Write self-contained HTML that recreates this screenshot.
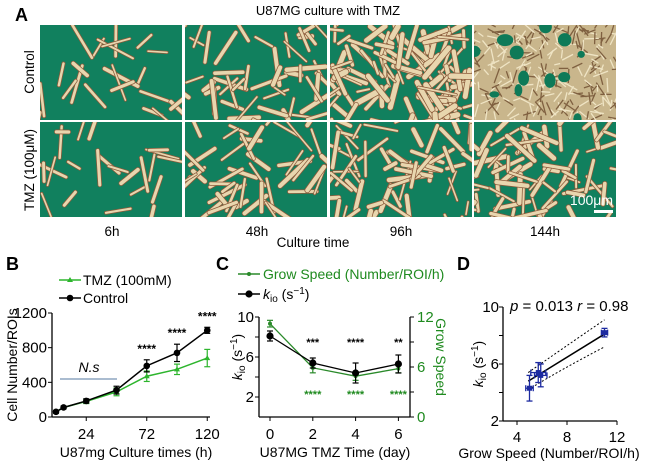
<!DOCTYPE html>
<html><head><meta charset="utf-8"><style>
body{margin:0;background:#fff;font-family:"Liberation Sans",Arial,sans-serif}
svg{display:block}
</style></head><body>
<svg id="fig" width="659" height="471" viewBox="0 0 659 471" xmlns="http://www.w3.org/2000/svg" font-family="Liberation Sans, Arial, sans-serif">
<g id="tiles"></g>
<text x="15" y="21" font-size="18" font-weight="bold">A</text>
<text x="328" y="15" font-size="13" text-anchor="middle">U87MG culture with TMZ</text>
<text transform="translate(34,72) rotate(-90)" font-size="13.5" text-anchor="middle">Control</text>
<text transform="translate(34,170) rotate(-90)" font-size="13.5" text-anchor="middle">TMZ (100μM)</text>
<text x="112" y="236" font-size="13.5" text-anchor="middle">6h</text>
<text x="257" y="236" font-size="13.5" text-anchor="middle">48h</text>
<text x="401" y="236" font-size="13.5" text-anchor="middle">96h</text>
<text x="545" y="236" font-size="13.5" text-anchor="middle">144h</text>
<text x="313" y="247" font-size="13.5" text-anchor="middle">Culture time</text>
<text x="613" y="205" font-size="14" fill="#fff" text-anchor="end">100μm</text>
<rect x="594" y="210" width="19" height="3" fill="#fff"/>

<text x="6" y="270" font-size="18" font-weight="bold">B</text>
<text x="216" y="270" font-size="18" font-weight="bold">C</text>
<text x="457" y="270" font-size="18" font-weight="bold">D</text>
<g id="chartB"></g>
<g id="chartC"></g>
<g id="chartD"></g>
</svg>
<script>
// ---- Chart B data ----
const bTimes=[0,6,24,48,72,96,120];
const bControl=[60,110,185,310,590,740,1000];
const bControlErr=[15,15,25,45,70,100,35];
const bTMZ=[60,110,180,290,470,550,680];
const bTMZErr=[15,15,25,45,60,60,100];
const bYTicks=[0,400,800,1200];
const bXTicks=[24,72,120];
const bStars=["****","****","****"];
const bStarTimes=[72,96,120];
// ---- Chart C data ----
const cDays=[0,2,4,6];
const cKio=[8.1,5.4,4.4,5.3];
const cKioErr=[0.5,0.5,1.0,0.9];
const cGrow=[11.2,5.9,4.9,5.8];
const cGrowErr=[0.4,0.6,0.5,0.5];
const cLeftTicks=[2,6,10];
const cRightTicks=[0,6,12];
const cXTicks=[0,2,4,6];
const cBlackStars=["***","****","**"];
const cGreenStars=["****","****","****"];
// ---- Chart D data ----
const dGrow=[11,5.7,5.9,5.0];
const dGrowErr=[0.25,0.6,0.5,0.3];
const dKio=[8.2,5.4,5.2,4.3];
const dKioErr=[0.3,0.7,0.8,0.9];
const dFitStart=[4.9,4.8];
const dFitEnd=[11,8.1];
const dXTicks=[4,8,12];
const dYTicks=[2,6,10];

const NS="http://www.w3.org/2000/svg";
function mk(parent,tag,attrs,text){const e=document.createElementNS(NS,tag);for(const k in attrs)e.setAttribute(k,attrs[k]);if(text!==undefined)e.textContent=text;parent.appendChild(e);return e;}
const KIO='<tspan font-style="italic">k</tspan><tspan font-size="10" dy="3">io</tspan><tspan dy="-3"> (s</tspan><tspan font-size="10" dy="-5">−1</tspan><tspan dy="5">)</tspan>';

// ---- micrograph tiles (decorative texture) ----
let seed=7;function rnd(){seed=(seed*16807)%2147483647;return seed/2147483647;}
const tiles=document.getElementById('tiles');
const colX=[40,185,330,474],rowY=[25,122],tw=142,th=95;
const cover=[[0.15,0.32,0.65,0.92],[0.15,0.3,0.4,0.45]];
for(let r=0;r<2;r++)for(let c=0;c<4;c++){
  const g=mk(tiles,'g',{});
  
  
  const x0=colX[c],y0=rowY[r];
  const cpE=mk(g,'clipPath',{id:'cp'+r+c});
  mk(cpE,'rect',{x:x0,y:y0,width:tw,height:th});
  const f=cover[r][c];
  if(f>0.85){
    mk(g,'rect',{x:x0,y:y0,width:tw,height:th,fill:'#c9b68c'});
    const gg=mk(g,'g',{'clip-path':'url(#cp'+r+c+')'});
    for(let i=0;i<260;i++){const x=x0+rnd()*tw,y=y0+rnd()*th,a=rnd()*6.28,l=6+rnd()*10;
      mk(gg,'line',{x1:x,y1:y,x2:x+Math.cos(a)*l,y2:y+Math.sin(a)*l,stroke:rnd()<0.5?'#7f6040':'#efe4c4','stroke-width':1.3});}
    for(let i=0;i<12;i++)mk(gg,'ellipse',{cx:x0+rnd()*tw,cy:y0+rnd()*th,rx:3+rnd()*6,ry:3+rnd()*5,fill:'#0e7a58'});
  } else {
    mk(g,'rect',{x:x0,y:y0,width:tw,height:th,fill:'#11805e'});
    const gg=mk(g,'g',{'clip-path':'url(#cp'+r+c+')'});
    const n=Math.round(f*150);
    for(let i=0;i<n;i++){const x=x0+rnd()*tw,y=y0+rnd()*th,a=rnd()*6.28,l=12+rnd()*28,w=1.5+rnd()*3.5*(0.5+f);
      mk(gg,'line',{x1:x,y1:y,x2:x+Math.cos(a)*l,y2:y+Math.sin(a)*l,stroke:'#8b5a3a','stroke-width':w+1.5,'stroke-linecap':'round'});
      mk(gg,'line',{x1:x,y1:y,x2:x+Math.cos(a)*l,y2:y+Math.sin(a)*l,stroke:'#e8d6ae','stroke-width':w,'stroke-linecap':'round'});}
  }
}

// ---- Chart B ----
(function(){
const G=document.getElementById('chartB');
const X=t=>56+t*(60.5/48), Y=v=>417-v*(104/1200);
mk(G,'line',{x1:52,y1:313,x2:52,y2:417,stroke:'#000','stroke-width':1.3});
mk(G,'line',{x1:52,y1:417,x2:210,y2:417,stroke:'#000','stroke-width':1.3});
bYTicks.forEach(v=>{mk(G,'line',{x1:48,y1:Y(v),x2:52,y2:Y(v),stroke:'#000'});
  const t=mk(G,'text',{x:47,y:Y(v)+5,'font-size':15,'text-anchor':'end'},v);});
bXTicks.forEach(v=>{mk(G,'line',{x1:X(v),y1:417,x2:X(v),y2:421,stroke:'#000'});
  const t=mk(G,'text',{x:X(v),y:439,'font-size':15,'text-anchor':'middle'},v);});
const yt=mk(G,'text',{transform:'translate(17,365) rotate(-90)','font-size':14,'text-anchor':'middle'},'Cell Number/ROIs');

const xt=mk(G,'text',{x:136,y:457,'font-size':14,'text-anchor':'middle'},'U87mg Culture times (h)');

mk(G,'line',{x1:60,y1:379,x2:117,y2:379,stroke:'#8ea6c0','stroke-width':1.5});
const ns=mk(G,'text',{x:89,y:372,'font-size':14,'font-style':'italic','text-anchor':'middle'},'N.s');

function series(vals,errs,color,tri,name){
  const g=mk(G,'g',{});
  mk(g,'polyline',{points:bTimes.map((t,i)=>X(t)+','+Y(vals[i])).join(' '),fill:'none',stroke:color,'stroke-width':1.5});
  bTimes.forEach((t,i)=>{const x=X(t);
    mk(g,'line',{x1:x,y1:Y(vals[i]-errs[i]),x2:x,y2:Y(vals[i]+errs[i]),stroke:color,'stroke-width':1.2});
    mk(g,'line',{x1:x-3,y1:Y(vals[i]-errs[i]),x2:x+3,y2:Y(vals[i]-errs[i]),stroke:color,'stroke-width':1.2});
    mk(g,'line',{x1:x-3,y1:Y(vals[i]+errs[i]),x2:x+3,y2:Y(vals[i]+errs[i]),stroke:color,'stroke-width':1.2});
    if(tri)mk(g,'path',{d:`M${x},${Y(vals[i])-3}l3,5h-6z`,fill:color});else mk(g,'circle',{cx:x,cy:Y(vals[i]),r:3.3,fill:color});});
}
series(bTMZ,bTMZErr,'#2db52d',true,'b-series-tmz');
series(bControl,bControlErr,'#000',false,'b-series-control');
bStarTimes.forEach((t,i)=>{const s=mk(G,'text',{x:X(t),y:Y(bControl[i+4]+bControlErr[i+4])-7,'font-size':12,'font-weight':'bold','text-anchor':'middle'},bStars[i]);
  });
const l1=mk(G,'g',{});
mk(l1,'line',{x1:59,y1:280,x2:81,y2:280,stroke:'#2db52d','stroke-width':1.5});mk(l1,'path',{d:'M70,277l3,5h-6z',fill:'#2db52d'});
mk(l1,'text',{x:83,y:285,'font-size':14},'TMZ (100mM)');
const l2=mk(G,'g',{});
mk(l2,'line',{x1:59,y1:298,x2:81,y2:298,stroke:'#000','stroke-width':1.5});mk(l2,'circle',{cx:70,cy:298,r:3.3});
mk(l2,'text',{x:83,y:303,'font-size':14},'Control');
})();

// ---- Chart C ----
(function(){
const G=document.getElementById('chartC');
const X=d=>270+d*21.4, YL=v=>417-v*10, YR=v=>417-v*(100/12);
const gc='#1f8a1f';
mk(G,'line',{x1:259,y1:317,x2:259,y2:417,stroke:'#000','stroke-width':1.3});
mk(G,'line',{x1:259,y1:417,x2:410,y2:417,stroke:'#000','stroke-width':1.3});
mk(G,'line',{x1:410,y1:317,x2:410,y2:417,stroke:'#000','stroke-width':1.3});
[2,4,6,8,10].forEach(v=>mk(G,'line',{x1:255,y1:YL(v),x2:259,y2:YL(v),stroke:'#000'}));
cLeftTicks.forEach(v=>{const t=mk(G,'text',{x:254,y:YL(v)+5,'font-size':15,'text-anchor':'end'},v);});
[0,3,6,9,12].forEach(v=>mk(G,'line',{x1:410,y1:YR(v),x2:414,y2:YR(v),stroke:'#000'}));
cRightTicks.forEach(v=>{const t=mk(G,'text',{x:417,y:YR(v)+5,'font-size':15,fill:gc},v);});
cXTicks.forEach(v=>{mk(G,'line',{x1:X(v),y1:417,x2:X(v),y2:421,stroke:'#000'});
  const t=mk(G,'text',{x:X(v),y:439,'font-size':15,'text-anchor':'middle'},v);});
const yl=mk(G,'text',{transform:'translate(242,357) rotate(-90)','font-size':14,'text-anchor':'middle'});

yl.innerHTML=KIO;
const yr=mk(G,'text',{transform:'translate(436,357) rotate(90)','font-size':14,'text-anchor':'middle',fill:gc},'Grow Speed');

const xt=mk(G,'text',{x:335,y:457,'font-size':14,'text-anchor':'middle'},'U87MG TMZ Time (day)');

function series(vals,errs,Y,color,r,name){
  const g=mk(G,'g',{});
  mk(g,'polyline',{points:cDays.map((d,i)=>X(d)+','+Y(vals[i])).join(' '),fill:'none',stroke:color,'stroke-width':1.3});
  cDays.forEach((d,i)=>{const x=X(d);
    mk(g,'line',{x1:x,y1:Y(vals[i]-errs[i]),x2:x,y2:Y(vals[i]+errs[i]),stroke:color,'stroke-width':1.2});
    mk(g,'line',{x1:x-3,y1:Y(vals[i]-errs[i]),x2:x+3,y2:Y(vals[i]-errs[i]),stroke:color,'stroke-width':1.2});
    mk(g,'line',{x1:x-3,y1:Y(vals[i]+errs[i]),x2:x+3,y2:Y(vals[i]+errs[i]),stroke:color,'stroke-width':1.2});
    mk(g,'circle',{cx:x,cy:Y(vals[i]),r:r,fill:color});});
}
series(cGrow,cGrowErr,YR,'#2a8a2a',2,'c-series-grow-speed');
series(cKio,cKioErr,YL,'#000',3.6,'c-series-kio');
cBlackStars.forEach((s,i)=>{const t=mk(G,'text',{x:X(cDays[i+1]),y:346,'font-size':11,'font-weight':'bold','text-anchor':'middle'},s);});
cGreenStars.forEach((s,i)=>{const t=mk(G,'text',{x:X(cDays[i+1]),y:398,'font-size':11,'font-weight':'bold','text-anchor':'middle',fill:gc},s);});
const l1=mk(G,'g',{});
mk(l1,'line',{x1:238,y1:274,x2:260,y2:274,stroke:'#2a8a2a','stroke-width':1.5});mk(l1,'circle',{cx:249,cy:274,r:2,fill:'#2a8a2a'});
mk(l1,'text',{x:263,y:279,'font-size':14,fill:gc},'Grow Speed (Number/ROI/h)');
const l2=mk(G,'g',{});
mk(l2,'line',{x1:238,y1:294,x2:260,y2:294,stroke:'#000','stroke-width':1.5});mk(l2,'circle',{cx:249,cy:294,r:3.6});
const lt=mk(l2,'text',{x:263,y:299,'font-size':14});
lt.innerHTML=KIO;
})();

// ---- Chart D ----
(function(){
const G=document.getElementById('chartD');
const X=v=>517+(v-4)*12.5, Y=v=>421-(v-2)*14.25;
const bc='#1c2aa0';
mk(G,'line',{x1:503,y1:307,x2:503,y2:421,stroke:'#000','stroke-width':1.3});
mk(G,'line',{x1:503,y1:421,x2:617,y2:421,stroke:'#000','stroke-width':1.3});
[2,4,6,8,10].forEach(v=>mk(G,'line',{x1:499,y1:Y(v),x2:503,y2:Y(v),stroke:'#000'}));
dYTicks.forEach(v=>{const t=mk(G,'text',{x:499,y:Y(v)+5,'font-size':15,'text-anchor':'end'},v);});
dXTicks.forEach(v=>{mk(G,'line',{x1:X(v),y1:421,x2:X(v),y2:425,stroke:'#000'});
  const t=mk(G,'text',{x:X(v),y:442,'font-size':15,'text-anchor':'middle'},v);});
const yl=mk(G,'text',{transform:'translate(483,364) rotate(-90)','font-size':14,'text-anchor':'middle'});

yl.innerHTML=KIO;
const xt=mk(G,'text',{x:549,y:458,'font-size':14,'text-anchor':'middle'},'Grow Speed (Number/ROI/h)');

const st=mk(G,'text',{x:510,y:311,'font-size':15});

st.innerHTML='<tspan font-style="italic">p</tspan> = 0.013 <tspan font-style="italic">r</tspan> = 0.98';
const fit=mk(G,'line',{x1:X(dFitStart[0]),y1:Y(dFitStart[1]),x2:X(dFitEnd[0]),y2:Y(dFitEnd[1]),stroke:'#000','stroke-width':1.5});

const cu=mk(G,'path',{d:`M${X(4.9)},${Y(5.4)} Q${X(7.5)},${Y(7.0)} ${X(11)},${Y(9.1)}`,fill:'none',stroke:'#000','stroke-dasharray':'2,2'});

const cl=mk(G,'path',{d:`M${X(4.9)},${Y(4.2)} Q${X(7.5)},${Y(5.6)} ${X(11)},${Y(7.2)}`,fill:'none',stroke:'#000','stroke-dasharray':'2,2'});

dGrow.forEach((g,i)=>{const p=mk(G,'g',{});
  const x=X(g),y=Y(dKio[i]);
  mk(p,'line',{x1:X(g-dGrowErr[i]),y1:y,x2:X(g+dGrowErr[i]),y2:y,stroke:bc,'stroke-width':1.3});
  mk(p,'line',{x1:x,y1:Y(dKio[i]-dKioErr[i]),x2:x,y2:Y(dKio[i]+dKioErr[i]),stroke:bc,'stroke-width':1.3});
  [Y(dKio[i]-dKioErr[i]),Y(dKio[i]+dKioErr[i])].forEach(yy=>mk(p,'line',{x1:x-3,y1:yy,x2:x+3,y2:yy,stroke:bc,'stroke-width':1.3}));
  mk(p,'line',{x1:X(g-dGrowErr[i]),y1:y-3,x2:X(g-dGrowErr[i]),y2:y+3,stroke:bc,'stroke-width':1.3});
  mk(p,'line',{x1:X(g+dGrowErr[i]),y1:y-3,x2:X(g+dGrowErr[i]),y2:y+3,stroke:bc,'stroke-width':1.3});
  mk(p,'rect',{x:x-2.5,y:y-2.5,width:5,height:5,fill:bc});});
})();
</script>
</body></html>
